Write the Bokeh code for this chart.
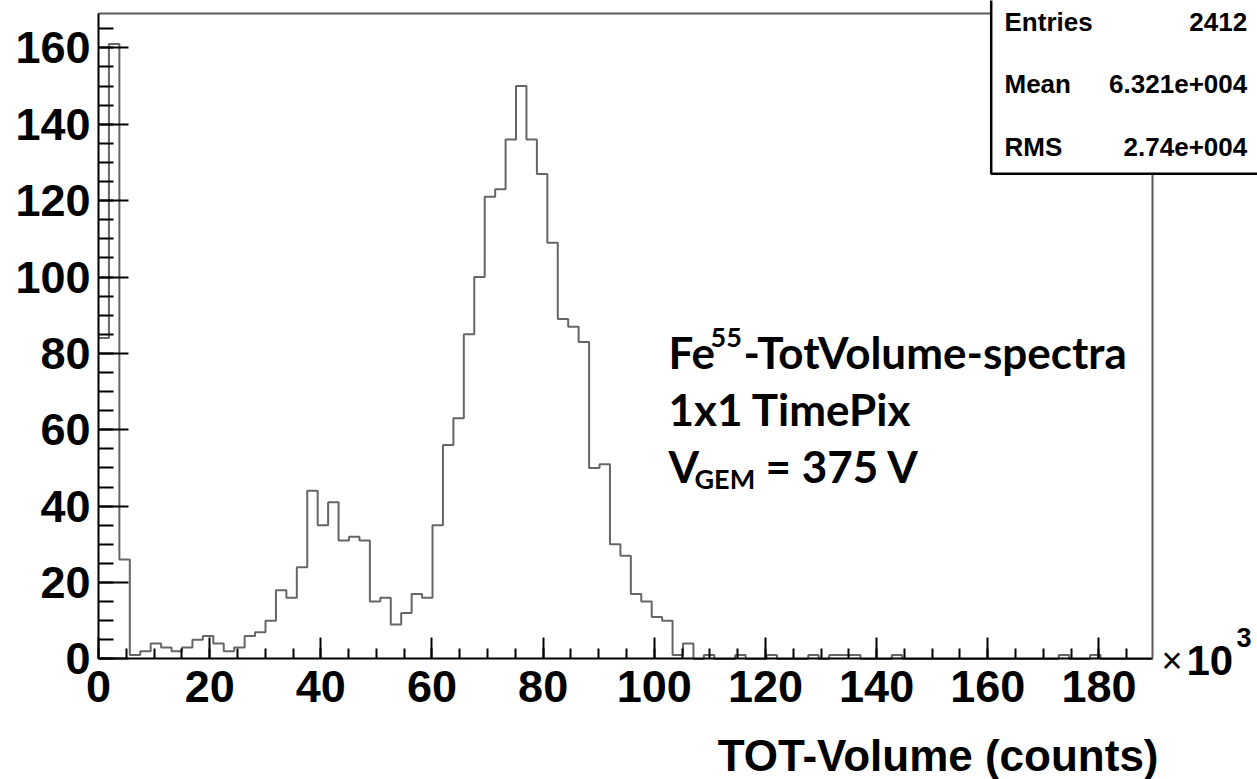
import numpy as np
from bokeh.plotting import figure
from bokeh.models import Range1d, Label, BoxAnnotation, FixedTicker, LinearAxis
from bokeh.embed import file_html
from bokeh.resources import INLINE

# ---- data (x in units of 10^3 counts) ----
bin_width = 1.878
counts = [84, 161, 26, 1, 2, 4, 3, 2, 3, 5, 6, 4, 2, 3, 6, 7, 10, 18, 16, 24,
          44, 35, 41, 31, 32, 31, 15, 16, 9, 12, 17, 16, 35, 56, 63, 85, 100, 121, 123, 136,
          150, 136, 127, 109, 89, 87, 83, 50, 51, 30, 27, 17, 15, 11, 10, 1, 4, 0, 1, 0,
          0, 1, 0, 0, 1, 0, 0, 0, 1, 0, 1, 1, 1, 0, 0, 0, 1, 0, 0, 0,
          0, 0, 0, 0, 0, 0, 0, 0, 0, 0, 0, 0, 1, 0, 0, 1, 0, 0, 0, 0,
          0]
x_ticks = [0, 20, 40, 60, 80, 100, 120, 140, 160, 180]
y_ticks = [0, 20, 40, 60, 80, 100, 120, 140, 160]
stat_names = ["Entries", "Mean", "RMS"]
stat_values = ["2412", "6.321e+004", "2.74e+004"]
x_title = "TOT-Volume (counts)"

edges = np.arange(len(counts) + 1) * bin_width
steps_y = list(counts) + [counts[-1]]

X_MAX = float(edges[-1])
Y_MAX = 168.9

# page geometry: the plotting frame fills the whole canvas; axes sit at fixed data positions
W, H = 1257, 779
LEFT_PX, BOTTOM_PX = 98.0, 658.4
SX, SY = 5.558, 3.819   # pixels per data unit


def dx(px):
    return (px - LEFT_PX) / SX


def dy(py):
    return (BOTTOM_PX - py) / SY


p = figure(width=W, height=H, x_range=Range1d(dx(0), dx(W)), y_range=Range1d(dy(H), dy(0)),
           output_backend="svg", toolbar_location=None,
           x_axis_location=None, y_axis_location=None,
           min_border=0, min_border_left=0, min_border_right=0, min_border_top=0, min_border_bottom=0)
p.grid.visible = False
p.outline_line_color = None
p.background_fill_color = "white"
p.border_fill_color = "white"

FONT = "Liberation Sans"

xa = LinearAxis(fixed_location=0, bounds=(0, X_MAX),
                ticker=FixedTicker(ticks=x_ticks, minor_ticks=list(np.arange(0, 190, 5))))
xa.major_tick_in = 21
xa.major_tick_out = 0
xa.minor_tick_in = 10
xa.minor_tick_out = 0
xa.major_label_standoff = 12

ya = LinearAxis(fixed_location=0, bounds=(0, Y_MAX),
                ticker=FixedTicker(ticks=y_ticks, minor_ticks=list(np.arange(0, 170, 5))))
ya.major_tick_in = 30
ya.major_tick_out = 0
ya.minor_tick_in = 15
ya.minor_tick_out = 0
ya.major_label_standoff = 8

for ax in (xa, ya):
    ax.axis_line_color = "black"
    ax.axis_line_width = 2
    ax.major_tick_line_color = "black"
    ax.major_tick_line_width = 2
    ax.minor_tick_line_color = "black"
    ax.minor_tick_line_width = 2
    ax.major_label_text_font = FONT
    ax.major_label_text_font_style = "bold"
    ax.major_label_text_font_size = "45px"
    ax.major_label_text_color = "black"

p.add_layout(xa, "below")
p.add_layout(ya, "left")

# gray top and right frame lines
top_ax = LinearAxis(fixed_location=Y_MAX, bounds=(0, X_MAX), ticker=FixedTicker(ticks=[]),
                    axis_line_color="#5a5a5a", axis_line_width=2,
                    major_tick_line_color=None, minor_tick_line_color=None,
                    major_label_text_font_size="0px")
right_ax = LinearAxis(fixed_location=X_MAX, bounds=(0, Y_MAX), ticker=FixedTicker(ticks=[]),
                      axis_line_color="#5a5a5a", axis_line_width=2,
                      major_tick_line_color=None, minor_tick_line_color=None,
                      major_label_text_font_size="0px")
p.add_layout(top_ax, "above")
p.add_layout(right_ax, "right")

# histogram outline
p.step(edges, steps_y, mode="after", line_color="#666666", line_width=2)

# stats box
p.add_layout(BoxAnnotation(left=dx(990.7), right=dx(W + 20), bottom=dy(173.3), top=dy(-20),
                           fill_color="white", fill_alpha=1.0,
                           line_color="black", line_width=2.5, line_alpha=1.0))
row_py = [21.7, 83.3, 146.7]
for name, val, py in zip(stat_names, stat_values, row_py):
    p.add_layout(Label(x=dx(1004), y=dy(py), text=name, text_align="left", text_baseline="middle",
                       text_font=FONT, text_font_style="bold", text_font_size="26px",
                       text_color="black"))
    p.add_layout(Label(x=dx(1246.7), y=dy(py), text=val, text_align="right", text_baseline="middle",
                       text_font=FONT, text_font_style="bold", text_font_size="26px",
                       text_color="black"))

# annotation text
AF = "Lato"


def lab(px, py, t, size, font=AF, style="bold", align="left", baseline="alphabetic"):
    p.add_layout(Label(x=dx(px), y=dy(py), text=t, text_align=align, text_baseline=baseline,
                       text_font=font, text_font_style=style, text_font_size=size,
                       text_color="black"))


lab(668, 351, "Fe", "44px")
lab(710, 337, "55", "27px")
lab(743, 351, "-TotVolume-spectra", "44px")
lab(668, 408, "1x1 TimePix", "44px")
lab(668, 465, "V", "44px")
lab(694, 478, "GEM", "27px")
lab(765, 465, "= 375 V", "44px")

# x-axis title and multiplier
lab(1158, 755, x_title, "44px", font=FONT, align="right", baseline="middle")
lab(1161, 660, "\u00d7", "36px", font=FONT, style="normal")
lab(1186, 660, "10", "42px", font=FONT)
lab(1236, 637, "3", "27px", font=FONT)

open("out.html", "w").write(file_html(p, INLINE))
